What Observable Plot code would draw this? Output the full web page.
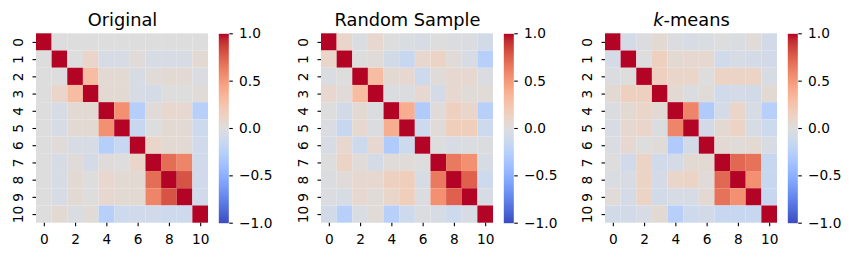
<!DOCTYPE html>
<html><head><meta charset="utf-8">
<script src="https://cdn.jsdelivr.net/npm/d3@7"></script>
<script src="https://cdn.jsdelivr.net/npm/@observablehq/plot@0.6"></script>
<style>
body{margin:0;background:#fff}
#chart{position:relative;width:855px;height:259px;overflow:hidden;background:#fff}
.p{position:absolute;top:0}
</style>
</head><body><div id="chart"></div>
<script>
// ---- data ----
const labels = [0,1,2,3,4,5,6,7,8,9,10];
const xTickLabels = [0,2,4,6,8,10];
const colorbarTicks = [-1,-0.5,0,0.5,1];
const titles = ["Original","Random Sample","k-means"];

const original = [
  [1, 0, 0, 0, 0, 0, 0, 0, 0, 0, 0],
  [0, 1, 0, 0.1, -0.05, -0.05, 0.02, -0.05, -0.05, -0.05, 0.05],
  [0, 0, 1, 0.3, 0.05, 0.05, -0.05, 0.02, 0.05, 0.05, -0.03],
  [0, 0.1, 0.3, 1, 0.05, 0.05, -0.05, -0.07, 0, 0, 0.03],
  [0, -0.05, 0.05, 0.05, 1, 0.55, -0.27, 0.02, 0.08, 0.07, -0.25],
  [0, -0.05, 0.05, 0.05, 0.55, 1, -0.15, 0, 0.05, 0.05, -0.12],
  [0, 0.02, -0.05, -0.05, -0.27, -0.15, 1, 0.1, 0.05, 0.05, -0.1],
  [0, -0.05, 0.02, -0.07, 0.02, 0, 0.1, 1, 0.7, 0.6, -0.1],
  [0, -0.05, 0.05, 0, 0.08, 0.05, 0.05, 0.7, 1, 0.8, -0.1],
  [0, -0.05, 0.05, 0, 0.07, 0.05, 0.05, 0.6, 0.8, 1, -0.1],
  [0, 0.05, -0.03, 0.03, -0.25, -0.12, -0.1, -0.1, -0.12, -0.12, 1]
];
const randomSample = [
  [1, 0.1, -0.03, 0.08, 0, -0.03, -0.05, 0, -0.02, -0.02, -0.08],
  [0.1, 1, 0, 0.02, -0.08, -0.15, 0.08, 0.12, 0.02, -0.05, -0.25],
  [-0.03, 0, 1, 0.3, 0.05, 0.07, -0.12, 0.02, 0.07, 0.07, -0.03],
  [0.08, 0.02, 0.3, 1, -0.02, -0.02, 0.07, -0.07, 0.07, 0.03, 0.03],
  [0, -0.08, 0.05, -0.02, 1, 0.4, -0.3, 0.02, 0.15, 0.1, -0.25],
  [-0.03, -0.15, 0.07, -0.02, 0.4, 1, -0.12, 0.02, 0.17, 0.17, -0.12],
  [-0.05, 0.08, -0.12, 0.07, -0.3, -0.12, 1, 0, -0.05, -0.02, -0.02],
  [0, 0.12, 0.02, -0.07, 0.02, 0.02, 0, 1, 0.65, 0.55, -0.05],
  [-0.02, 0.02, 0.07, 0.07, 0.15, 0.17, -0.05, 0.65, 1, 0.75, -0.12],
  [-0.02, -0.05, 0.07, 0.03, 0.1, 0.17, -0.02, 0.55, 0.75, 1, -0.05],
  [-0.08, -0.25, -0.03, 0.03, -0.25, -0.12, -0.02, -0.05, -0.12, -0.05, 1]
];
const kmeans = [
  [1, -0.07, -0.02, 0.05, -0.02, -0.05, -0.03, 0, -0.03, 0.02, -0.08],
  [-0.07, 1, 0, 0.15, 0.05, 0.07, 0.07, -0.1, -0.05, -0.07, -0.08],
  [-0.02, 0, 1, 0.15, 0.1, 0.1, 0, 0.12, 0.12, 0.12, -0.05],
  [0.05, 0.15, 0.15, 1, 0.05, -0.02, 0.03, -0.1, -0.07, -0.08, 0.05],
  [-0.02, 0.05, 0.1, 0.05, 1, 0.6, -0.3, -0.07, 0.1, -0.05, -0.25],
  [-0.05, 0.07, 0.1, -0.02, 0.6, 1, -0.08, 0.05, 0.12, -0.05, -0.12],
  [-0.03, 0.07, 0, 0.03, -0.3, -0.08, 1, 0.05, 0.02, 0.05, -0.05],
  [0, -0.1, 0.12, -0.1, -0.07, 0.05, 0.05, 1, 0.72, 0.68, -0.15],
  [-0.03, -0.05, 0.12, -0.07, 0.1, 0.12, 0.02, 0.72, 1, 0.55, -0.15],
  [0.02, -0.07, 0.12, -0.08, -0.05, -0.05, 0.05, 0.68, 0.55, 1, -0.15],
  [-0.08, -0.08, -0.05, 0.05, -0.25, -0.12, -0.08, -0.15, -0.15, -0.15, 1]
];
const matrices = [original, randomSample, kmeans];

// ---- style: matplotlib "coolwarm" ----
const coolwarmStops = ["#3b4cc0","#445acc","#4d68d7","#5775e1","#6282ea","#6c8ef1","#779af7","#82a5fb","#8db0fe","#98b9ff","#a3c2ff","#aec9fd","#b8d0f9","#c2d5f4","#ccd9ee","#d5dbe6","#dddddd","#e5d8d1","#ecd3c5","#f1ccb9","#f5c4ad","#f7bba0","#f7b194","#f7a687","#f49a7b","#f18d6f","#ec7f63","#e57058","#de604d","#d55042","#cb3e38","#c0282f","#b40426"];
const coolwarm = d3.piecewise(d3.interpolateRgb, coolwarmStops);

const FONT = "DejaVu Sans";
const TICK_FS = 13.7;
const panelLeft = [0, 284.6, 569];
const H = 259, MT = 33.3, MB = 36.3;

const chart = document.getElementById("chart");

matrices.forEach((m, k) => {
  const cells = m.flatMap((row, i) => row.map((v, j) => ({x: labels[j], y: labels[i], v})));
  const heat = Plot.plot({
    width: 208, height: H,
    marginLeft: 36, marginRight: 0, marginTop: MT, marginBottom: MB,
    style: {fontFamily: FONT, fontSize: TICK_FS + "px", background: "transparent", overflow: "visible", color: "#000"},
    x: {type: "band", domain: labels, padding: 0, round: false, label: null},
    y: {type: "band", domain: labels, padding: 0, round: false, label: null},
    color: {type: "linear", domain: [-1, 1], interpolate: coolwarm},
    marks: [
      Plot.cell(cells, {x: "x", y: "y", fill: "v", inset: 0}),
      Plot.axisX({ticks: xTickLabels, tickSize: 3.5, tickPadding: 7.8, strokeWidth: 1.1, fontSize: TICK_FS, label: null}),
      Plot.axisY({ticks: labels, tickSize: 3.5, tickPadding: 10.3, tickRotate: -90, strokeWidth: 1.1, fontSize: TICK_FS, label: null}),
      Plot.text([titles[k]], {frameAnchor: "top", dy: -8.3, lineAnchor: "bottom", fontSize: 17.8, fill: "#000"})
    ]
  });
  heat.classList.add("p");
  heat.style.left = panelLeft[k] + "px";
  // italic k in "k-means"
  d3.select(heat).selectAll("text").each(function() {
    if (this.textContent === "k-means") {
      this.textContent = "";
      const s = d3.select(this);
      s.append("tspan").attr("font-style", "italic").text("k");
      s.append("tspan").text("-means");
    }
  });
  chart.appendChild(heat);

  const bar = Plot.plot({
    width: 77, height: H,
    marginLeft: 10.3, marginRight: 56.7, marginTop: MT, marginBottom: MB,
    style: {fontFamily: FONT, fontSize: TICK_FS + "px", background: "transparent", overflow: "visible", color: "#000"},
    x: {domain: [0, 1], axis: null},
    y: {domain: [-1, 1], label: null},
    color: {type: "linear", domain: [-1, 1], interpolate: coolwarm},
    marks: [
      Plot.raster({x1: 0, x2: 1, y1: -1, y2: 1, width: 1, height: 256, fill: (x, y) => y}),
      Plot.axisY({anchor: "right", ticks: colorbarTicks, tickFormat: d3.format(".1f"), tickSize: 3.5, tickPadding: 6.8, strokeWidth: 1.1, fontSize: TICK_FS, label: null})
    ]
  });
  bar.classList.add("p");
  bar.style.left = (panelLeft[k] + 208) + "px";
  chart.appendChild(bar);
});
</script>
</body></html>
